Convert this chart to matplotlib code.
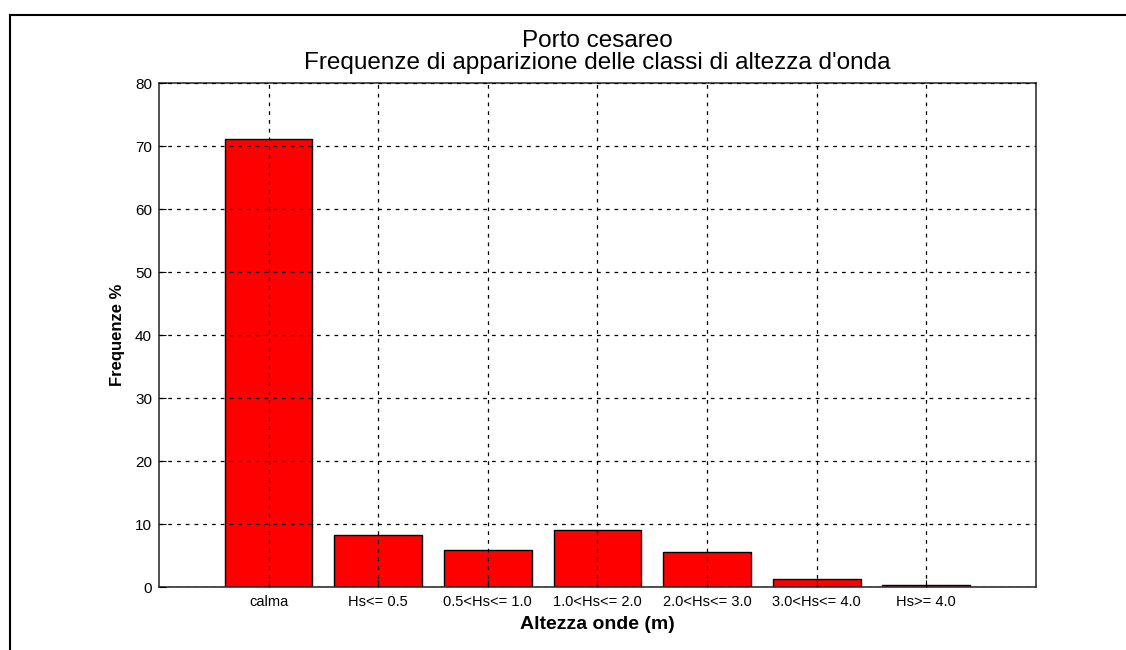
import matplotlib
matplotlib.use('Agg')
import matplotlib.pyplot as plt
from matplotlib.lines import Line2D

classi = ['calma', 'Hs<= 0.5', '0.5<Hs<= 1.0', '1.0<Hs<= 2.0',
          '2.0<Hs<= 3.0', '3.0<Hs<= 4.0', 'Hs>= 4.0']
frequenze = [71.1, 8.3, 5.9, 9.0, 5.5, 1.3, 0.35]
posizioni = list(range(1, len(classi) + 1))
yticks = [0, 10, 20, 30, 40, 50, 60, 70, 80]

plt.rcParams['font.family'] = ['Liberation Sans', 'DejaVu Sans']

fig = plt.figure(figsize=(11.26, 6.5), dpi=100)
ax = fig.add_axes([0.1412, 0.0969, 0.7788, 0.7754])

ax.bar(posizioni, frequenze, width=0.8, color='#ff0000', edgecolor='black',
       linewidth=1.0, zorder=2)

ax.set_xlim(0, 8)
ax.set_ylim(0, 80)
ax.set_xticks(posizioni)
ax.set_xticklabels(classi, fontsize=10.5)
ax.set_yticks(yticks)
ax.tick_params(axis='y', labelsize=11, pad=5)
ax.tick_params(axis='x', pad=6)
ax.tick_params(direction='in', length=5, width=0.8)
ax.grid(True, color='black', linestyle=(0, (3, 4)), linewidth=0.9, zorder=3)
ax.set_axisbelow(False)
for s in ax.spines.values():
    s.set_linewidth(1.2)
    s.set_color('#333333')

ax.set_title('Porto cesareo\nFrequenze di apparizione delle classi di altezza d\'onda',
             fontsize=17.5, linespacing=1.0, pad=10)
ax.set_xlabel('Altezza onde (m)', fontsize=14, fontweight='bold', labelpad=5)
ax.set_ylabel('Frequenze %', fontsize=12, fontweight='bold', labelpad=7)

# cornice esterna (solo sopra e a sinistra)
fig.add_artist(Line2D([10 / 1126, 1], [1 - 15 / 650, 1 - 15 / 650],
                      transform=fig.transFigure, color='black', linewidth=1.5))
fig.add_artist(Line2D([10 / 1126, 10 / 1126], [0, 1 - 15 / 650],
                      transform=fig.transFigure, color='black', linewidth=1.5))

fig.savefig('out.png', dpi=100)
